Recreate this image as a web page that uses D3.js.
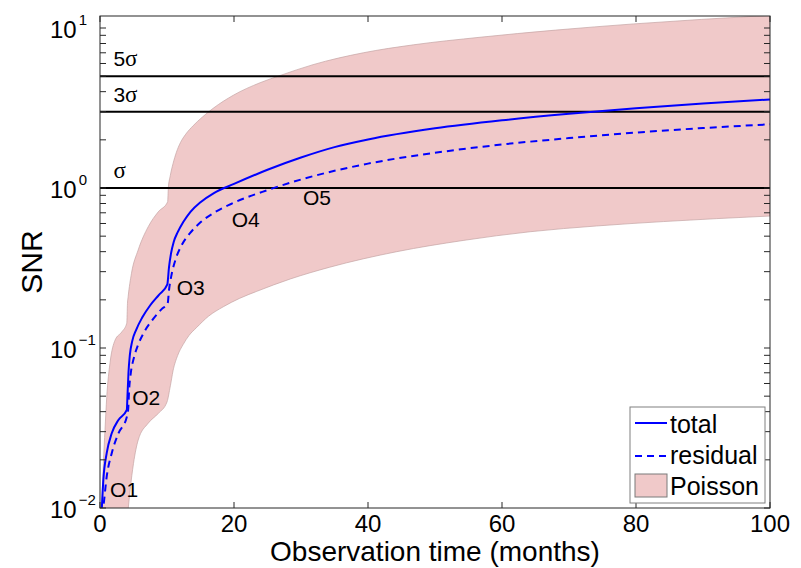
<!DOCTYPE html>
<html>
<head>
<meta charset="utf-8">
<script src="https://cdn.jsdelivr.net/npm/d3@7"></script>
<style>
  body { margin: 0; background: #fff; }
  text { font-family: "Liberation Sans", Arial, Helvetica, sans-serif; fill: #000; }
</style>
</head>
<body>
<div id="snr-chart"></div>
<script>
// [months, SNR]
const totalSNR = [
  [0.25, 0.0095], [0.5, 0.015], [1.0, 0.022], [1.75, 0.0293], [2.75, 0.0355], [4.0, 0.041],
  [4.1, 0.05], [4.25, 0.07], [4.45, 0.09], [4.8, 0.11], [5.4, 0.13], [6.3, 0.155],
  [7.5, 0.185], [8.8, 0.215], [10.05, 0.25], [10.3, 0.32], [10.6, 0.39], [11.0, 0.46],
  [11.6, 0.53], [12.4, 0.61], [13.5, 0.71], [15.0, 0.815], [17.0, 0.93], [20, 1.06],
  [25, 1.30], [30, 1.55], [35, 1.80], [40, 2.01], [50, 2.36], [60, 2.65], [70, 2.91],
  [80, 3.15], [90, 3.37], [100, 3.58]
];
const residualSNR = [
  [0.3, 0.009], [0.5, 0.0102], [1.0, 0.0157], [1.75, 0.022], [2.75, 0.0293], [4.0, 0.037],
  [4.2, 0.041], [4.35, 0.055], [4.6, 0.07], [5.0, 0.085], [5.7, 0.105], [6.7, 0.128],
  [8.0, 0.153], [9.2, 0.175], [10.1, 0.19], [10.3, 0.23], [10.7, 0.29], [11.3, 0.36],
  [12.2, 0.44], [13.4, 0.52], [15.0, 0.61], [17.0, 0.70], [20, 0.81], [25, 0.97],
  [30, 1.13], [35, 1.28], [40, 1.42], [50, 1.66], [60, 1.87], [70, 2.05], [80, 2.22],
  [90, 2.37], [100, 2.5]
];
const poissonUpper = [
  [0, 0.0085], [0.25, 0.0107], [0.5, 0.019], [0.75, 0.031], [1.0, 0.049], [1.5, 0.081],
  [2.25, 0.112], [3.25, 0.126], [4.0, 0.143], [4.1, 0.19], [4.2, 0.209], [4.7, 0.293],
  [5.7, 0.41], [7.2, 0.573], [8.7, 0.71], [10.1, 0.82], [10.2, 1.0], [10.5, 1.2],
  [10.9, 1.42], [11.4, 1.67], [12.0, 1.92], [12.8, 2.17], [13.9, 2.45], [15.3, 2.78],
  [16.9, 3.15], [19.9, 3.8], [23.9, 4.55], [26.9, 5.05], [31.8, 5.9], [39.3, 7.0],
  [46.8, 7.85], [56.7, 8.75], [68, 9.7], [79.6, 10.6], [100, 12.0]
];
const poissonLower = [
  [4.2, 0.0098], [4.5, 0.013], [5.0, 0.019], [5.7, 0.0266], [7.2, 0.0339], [8.7, 0.039],
  [10.0, 0.046], [10.5, 0.058], [10.9, 0.072], [11.6, 0.09], [12.4, 0.105], [13.3, 0.12],
  [14.4, 0.134], [16.2, 0.158], [18.4, 0.181], [20.8, 0.204], [23.4, 0.226], [28.4, 0.27],
  [34.3, 0.32], [44.3, 0.4], [54.2, 0.47], [64.2, 0.533], [74.1, 0.579], [84.1, 0.617],
  [100, 0.668]
];
const sigmaLevels = [5, 3, 1];
const sigmaLabels = ["5", "3", ""];
const obsLabels = ["O1", "O2", "O3", "O4", "O5"];
const obsLabelPos = [[1.5, 0.0117], [4.8, 0.044], [11.45, 0.214], [19.65, 0.573], [30.3, 0.783]];
const xTicks = [0, 20, 40, 60, 80, 100];
const yMajorTicks = [0.01, 0.1, 1, 10];
const yTickExponents = ["\u22122", "\u22121", "0", "1"];
const legendLabels = ["total", "residual", "Poisson"];

const blue = "#0000ff";
const pink = "#f0c9c9";

const margin = { top: 16, right: 31, bottom: 60, left: 100 },
    width = 801 - margin.left - margin.right,
    height = 568 - margin.top - margin.bottom;

const svg = d3.select('#snr-chart')
    .append('svg')
    .attr('width', 801)
    .attr('height', 568)
    .append('g')
    .attr('transform', `translate(${margin.left}, ${margin.top})`);

const x = d3.scaleLinear()
    .domain([0, 100])
    .range([0, width]);

const y = d3.scaleLog()
    .domain([0.01, Math.pow(10, 1.075)])
    .range([height, 0]);

svg.append('clipPath')
    .attr('id', 'plot-clip')
    .append('rect')
    .attr('width', width)
    .attr('height', height);

const plot = svg.append('g').attr('clip-path', 'url(#plot-clip)');

const line = d3.line()
    .x(d => x(d[0]))
    .y(d => y(d[1]))
    .curve(d3.curveMonotoneX);

// poisson band: upper edge forward, lower edge back
const bandPath = line(poissonUpper)
    + line(poissonLower.slice().reverse()).replace(/^M/, 'L')
    + 'Z';

plot.append('path')
    .attr('d', bandPath)
    .attr('fill', pink)
    .attr('stroke', '#c4a4a4')
    .attr('stroke-width', 0.7);

plot.selectAll('.sigma-line')
    .data(sigmaLevels)
    .join('line')
    .attr('x1', 0)
    .attr('x2', width)
    .attr('y1', d => y(d))
    .attr('y2', d => y(d))
    .attr('stroke', '#000')
    .attr('stroke-width', 2);

plot.append('path')
    .datum(totalSNR)
    .attr('fill', 'none')
    .attr('stroke', blue)
    .attr('stroke-width', 2)
    .attr('d', line);

plot.append('path')
    .datum(residualSNR)
    .attr('fill', 'none')
    .attr('stroke', blue)
    .attr('stroke-width', 2)
    .attr('stroke-dasharray', '7,5')
    .attr('d', line);

// sigma labels
const sigmaText = svg.selectAll('.sigma-label')
    .data(sigmaLevels)
    .join('text')
    .attr('x', x(2))
    .attr('y', d => y(d) - 10)
    .attr('font-size', 21);
sigmaText.append('tspan').text((d, i) => sigmaLabels[i]);
sigmaText.append('tspan')
    .attr('font-family', '"Liberation Serif", "DejaVu Serif", serif')
    .attr('font-size', 23)
    .text('\u03c3');

svg.selectAll('.obs-label')
    .data(obsLabels)
    .join('text')
    .attr('x', (d, i) => x(obsLabelPos[i][0]))
    .attr('y', (d, i) => y(obsLabelPos[i][1]))
    .attr('font-size', 21)
    .text(d => d);

// axes box and ticks (MATLAB style, ticks inward on all sides)
const axisColor = '#262626';
const tickLen = 6;

svg.append('rect')
    .attr('width', width)
    .attr('height', height)
    .attr('fill', 'none')
    .attr('stroke', axisColor)
    .attr('stroke-width', 1);

xTicks.forEach(t => {
    svg.append('line').attr('x1', x(t)).attr('x2', x(t))
        .attr('y1', height).attr('y2', height - tickLen)
        .attr('stroke', axisColor);
    svg.append('line').attr('x1', x(t)).attr('x2', x(t))
        .attr('y1', 0).attr('y2', tickLen)
        .attr('stroke', axisColor);
    svg.append('text')
        .attr('x', x(t))
        .attr('y', height + 24)
        .attr('text-anchor', 'middle')
        .attr('font-size', 24)
        .text(t);
});

y.ticks().filter(t => y(t) >= 0).forEach(t => {
    svg.append('line').attr('x1', 0).attr('x2', tickLen)
        .attr('y1', y(t)).attr('y2', y(t))
        .attr('stroke', axisColor);
    svg.append('line').attr('x1', width).attr('x2', width - tickLen)
        .attr('y1', y(t)).attr('y2', y(t))
        .attr('stroke', axisColor);
});

yMajorTicks.forEach((t, i) => {
    const label = svg.append('text')
        .attr('x', -50)
        .attr('y', y(t) + 10)
        .attr('font-size', 24);
    label.append('tspan').text('10');
    label.append('tspan')
        .attr('dx', 2)
        .attr('dy', -13)
        .attr('font-size', 15)
        .text(yTickExponents[i]);
});

svg.append('text')
    .attr('x', width / 2)
    .attr('y', height + 53)
    .attr('text-anchor', 'middle')
    .attr('font-size', 28)
    .text('Observation time (months)');

svg.append('text')
    .attr('transform', `translate(${-58}, ${height / 2}) rotate(-90)`)
    .attr('text-anchor', 'middle')
    .attr('font-size', 30)
    .text('SNR');

// legend
const legend = svg.append('g')
    .attr('transform', `translate(${width - 140}, ${height - 101})`);

legend.append('rect')
    .attr('width', 135)
    .attr('height', 96)
    .attr('fill', '#fff')
    .attr('stroke', '#808080')
    .attr('stroke-width', 1);

legend.append('line')
    .attr('x1', 5).attr('x2', 37).attr('y1', 16).attr('y2', 16)
    .attr('stroke', blue).attr('stroke-width', 2);

legend.append('line')
    .attr('x1', 5).attr('x2', 37).attr('y1', 49).attr('y2', 49)
    .attr('stroke', blue).attr('stroke-width', 2)
    .attr('stroke-dasharray', '7,5');

legend.append('rect')
    .attr('x', 5).attr('y', 67).attr('width', 32).attr('height', 23)
    .attr('fill', pink)
    .attr('stroke', '#7a7a7a')
    .attr('stroke-width', 1);

legend.selectAll('.legend-label')
    .data(legendLabels)
    .join('text')
    .attr('x', 40)
    .attr('y', (d, i) => [26, 57, 88][i])
    .attr('font-size', 25)
    .text(d => d);
</script>
</body>
</html>
